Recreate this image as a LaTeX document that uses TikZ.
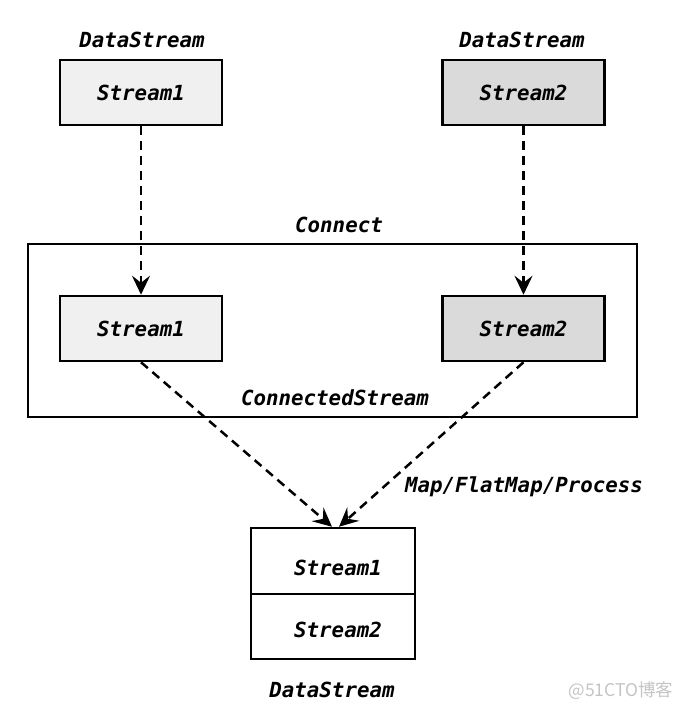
\documentclass[tikz,border=0pt]{standalone}
\usepackage{fontspec}
\setmonofont{DejaVu Sans Mono}
\newfontfamily\cjkfont{Noto Sans CJK SC}
\usetikzlibrary{arrows.meta}
\definecolor{lightfill}{HTML}{F0F0F0}
\definecolor{darkfill}{HTML}{DADADA}
\definecolor{markgray}{HTML}{C4C4C4}
\tikzset{
	streambox/.style={draw, line width=2.5pt, minimum width=162pt, minimum height=65pt, inner sep=0pt},
	txt/.style={font=\fontsize{20.8}{24}\selectfont\ttfamily\bfseries\itshape, inner sep=0pt},
	flow/.style={line width=2.5pt, dash pattern=on 9pt off 6pt, -{Stealth[length=19pt, width=18pt, inset=7pt]}}
}
\begin{document}
\begin{tikzpicture}[x=1pt, y=-1pt]
	\useasboundingbox (0,0) rectangle (680,709);
	% sources
	\node [txt] (ds1) at (142,40) {DataStream};
	\node [txt] (ds2) at (522,40) {DataStream};
	\node [streambox, fill=lightfill, txt] (top1) at (141,92.5) {Stream1};
	\node [streambox, fill=darkfill, txt] (top2) at (523.5,92.5) {Stream2};
	% connect
	\node [txt] (conn) at (339,225) {Connect};
	\draw [line width=2.5pt] (28,244) rectangle (637,417);
	\node [streambox, fill=lightfill, txt] (in1) at (141,328.5) {Stream1};
	\node [streambox, fill=darkfill, txt] (in2) at (523.5,328.5) {Stream2};
	\node [txt] (cs) at (335,398) {ConnectedStream};
	% result
	\node [streambox, minimum width=164pt, minimum height=66pt] (bot1) at (333,561) {};
	\node [streambox, minimum width=164pt, minimum height=65pt] (bot2) at (333,626.5) {};
	\node [txt] (b1) at (338,568) {Stream1};
	\node [txt] (b2) at (338,630) {Stream2};
	\node [txt] (ds3) at (332,690) {DataStream};
	\node [txt] (op) at (524,487) {Map/FlatMap/Process};
	% arrows
	\draw [flow] (top1) -- (in1);
	\draw [flow] (top2) -- (in2);
	\draw [flow] (in1.south) -- ([xshift=-1pt]bot1.north);
	\draw [flow] (in2.south) -- ([xshift=6pt]bot1.north);
	\node [font=\fontsize{17.5}{20}\selectfont\cjkfont, text=markgray, inner sep=0pt] (mark) at (621,691) {@51CTO博客};
\end{tikzpicture}
\end{document}
